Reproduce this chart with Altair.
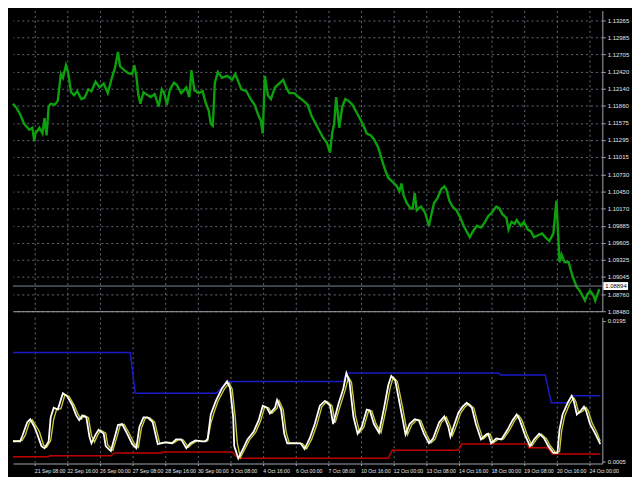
import altair as alt
import pandas as pd

# ---------------- data ----------------
# x = hourly bar index (0 = left edge), gridlines every 32 bars
price_bar = [0, 4, 7, 11, 16, 19, 21, 22, 26, 29, 31, 33, 35, 37, 41, 44, 47, 49, 52, 54,
             57, 60, 63, 67, 70, 74, 77, 81, 85, 89, 93, 97, 100, 103, 105, 109, 113, 117, 119, 121,
             123, 125, 128, 132, 135, 139, 143, 146, 148, 151, 154, 158, 161, 165, 170, 173, 175, 178, 182, 186,
             189, 192, 194, 196, 198, 201, 205, 210, 215, 218, 221, 224, 229, 233, 237, 241, 243, 245, 247, 250,
             253, 257, 261, 265, 268, 271, 276, 280, 285, 289, 293, 297, 300, 304, 308, 311, 313, 315, 317, 320,
             323, 326, 329, 333, 336, 340, 343, 347, 351, 354, 358, 362, 365, 368, 372, 376, 379, 381, 383, 386,
             390, 392, 394, 396, 400, 404, 408, 410, 413, 416, 420, 423, 425, 428, 431, 435, 438, 442, 445, 448,
             451, 455, 459, 463, 466, 470, 474, 477, 480, 484, 486, 489, 492, 494, 498, 501, 505, 508, 511, 515,
             519, 522, 526, 530, 533, 535, 536, 538, 541, 545, 548, 550, 553, 556, 559, 561, 563, 566, 569, 571,
             573, 575]
price_val = [1.11889, 1.11810, 1.11716, 1.11558, 1.11463, 1.11495, 1.11274, 1.11400, 1.11495, 1.11400,
             1.11653, 1.11369, 1.11842, 1.11889, 1.11873, 1.11937, 1.12378, 1.12315, 1.12521, 1.12410,
             1.12079, 1.12031, 1.12095, 1.11968, 1.11984, 1.12126, 1.12095, 1.12252, 1.12158, 1.12221,
             1.12063, 1.12315, 1.12473, 1.12741, 1.12505, 1.12442, 1.12394, 1.12378, 1.12521, 1.12347,
             1.12031, 1.11889, 1.12079, 1.12031, 1.12000, 1.12047, 1.11842, 1.12126, 1.12079, 1.11873,
             1.12126, 1.12237, 1.12189, 1.12063, 1.12158, 1.12000, 1.12442, 1.12110, 1.12063, 1.12095,
             1.11905, 1.11779, 1.11558, 1.11526, 1.12237, 1.12410, 1.12315, 1.12347, 1.12284, 1.12378,
             1.12252, 1.12126, 1.12095, 1.11968, 1.11873, 1.11684, 1.11621, 1.11400, 1.12347, 1.12031,
             1.11968, 1.12158, 1.12221, 1.12284, 1.12158, 1.12063, 1.12063, 1.12000, 1.11937, 1.11873,
             1.11684, 1.11558, 1.11463, 1.11337, 1.11242, 1.11085, 1.11400, 1.11558, 1.12000, 1.11495,
             1.11842, 1.11968, 1.11937, 1.11873, 1.11779, 1.11653, 1.11558, 1.11400, 1.11369, 1.11306,
             1.11179, 1.10958, 1.10800, 1.10674, 1.10611, 1.10548, 1.10453, 1.10580, 1.10390, 1.10264,
             1.10169, 1.10169, 1.10422, 1.10138, 1.10201, 1.10106, 1.09885, 1.10043, 1.10264, 1.10327,
             1.10485, 1.10532, 1.10485, 1.10296, 1.10201, 1.10138, 1.10043, 1.09885, 1.09791, 1.09696,
             1.09791, 1.09885, 1.09854, 1.09948, 1.10043, 1.10106, 1.10201, 1.10169, 1.10075, 1.10012,
             1.09822, 1.09948, 1.09917, 1.09980, 1.09885, 1.09948, 1.09822, 1.09791, 1.09696, 1.09728,
             1.09759, 1.09696, 1.09633, 1.09759, 1.10296, 1.09633, 1.09286, 1.09412, 1.09286, 1.09286,
             1.09096, 1.09002, 1.08876, 1.08812, 1.08718, 1.08654, 1.08749, 1.08812, 1.08749, 1.08654,
             1.08749, 1.08844]
current_price = [1.08894]
current_label = ["1.08894"]

# oscillator (white)
osc_bar = [0, 7, 9, 14, 17, 21, 23, 28, 31, 35, 37, 40, 44, 49, 53, 58, 62, 65, 68, 72,
           75, 77, 81, 84, 89, 91, 96, 100, 103, 107, 112, 117, 121, 124, 128, 132, 137, 142, 145, 149,
           156, 160, 165, 170, 174, 179, 185, 189, 191, 194, 199, 205, 210, 213, 216, 217, 221, 226, 230, 236,
           241, 245, 249, 252, 257, 259, 263, 266, 269, 275, 282, 286, 291, 296, 301, 306, 311, 314, 319, 324,
           327, 330, 334, 338, 342, 347, 350, 354, 359, 364, 368, 371, 375, 380, 385, 389, 394, 398, 403, 408,
           412, 418, 423, 427, 429, 432, 437, 441, 445, 450, 454, 459, 464, 466, 469, 474, 479, 485, 490, 494,
           497, 502, 507, 511, 516, 521, 525, 530, 534, 536, 539, 544, 548, 550, 553, 557, 560, 562, 566, 571,
           576]
osc_val = [0.00320, 0.00320, 0.00385, 0.00580, 0.00619, 0.00515, 0.00450, 0.00255, 0.00228, 0.00320,
           0.00645, 0.00776, 0.00750, 0.00971, 0.00932, 0.00815, 0.00671, 0.00606, 0.00671, 0.00645,
           0.00385, 0.00294, 0.00411, 0.00476, 0.00424, 0.00255, 0.00189, 0.00385, 0.00541, 0.00554,
           0.00424, 0.00281, 0.00228, 0.00515, 0.00645, 0.00645, 0.00580, 0.00281, 0.00294, 0.00307,
           0.00294, 0.00346, 0.00346, 0.00228, 0.00294, 0.00333, 0.00320, 0.00320, 0.00359, 0.00684,
           0.00867, 0.01036, 0.01131, 0.01036, 0.00645, 0.00255, 0.00090, 0.00228, 0.00346, 0.00450,
           0.00606, 0.00802, 0.00776, 0.00697, 0.00776, 0.00880, 0.00750, 0.00424, 0.00294, 0.00294,
           0.00294, 0.00215, 0.00359, 0.00554, 0.00802, 0.00867, 0.00802, 0.00554, 0.00815, 0.01036,
           0.01244, 0.01127, 0.00645, 0.00424, 0.00515, 0.00750, 0.00737, 0.00554, 0.00437, 0.00776,
           0.01075, 0.01205, 0.01140, 0.00776, 0.00411, 0.00554, 0.00619, 0.00606, 0.00424, 0.00294,
           0.00359, 0.00580, 0.00658, 0.00515, 0.00385, 0.00515, 0.00710, 0.00789, 0.00841, 0.00776,
           0.00554, 0.00346, 0.00411, 0.00424, 0.00294, 0.00359, 0.00346, 0.00476, 0.00606, 0.00684,
           0.00606, 0.00411, 0.00255, 0.00346, 0.00424, 0.00359, 0.00255, 0.00163, 0.00163, 0.00476,
           0.00684, 0.00841, 0.00936, 0.00867, 0.00684, 0.00737, 0.00789, 0.00737, 0.00554, 0.00424,
           0.00281]

# signal (yellow)
sig_bar = [0, 9, 12, 16, 19, 23, 26, 30, 33, 37, 40, 43, 47, 51, 55, 60, 64, 67, 70, 74,
           77, 80, 83, 86, 91, 93, 98, 102, 105, 109, 114, 119, 123, 126, 130, 134, 139, 144, 147, 151,
           158, 162, 167, 172, 176, 181, 187, 191, 194, 197, 201, 207, 212, 215, 218, 220, 223, 228, 232, 238,
           243, 247, 251, 254, 259, 261, 265, 268, 271, 277, 284, 288, 293, 298, 303, 308, 313, 316, 321, 326,
           329, 332, 336, 340, 344, 349, 352, 356, 361, 366, 370, 373, 377, 382, 387, 391, 396, 400, 405, 410,
           414, 420, 425, 429, 431, 434, 439, 443, 447, 452, 456, 461, 466, 468, 471, 476, 481, 487, 492, 496,
           499, 504, 509, 513, 518, 523, 527, 532, 536, 538, 541, 546, 550, 552, 555, 559, 562, 564, 568, 573,
           576]
sig_val = [0.00330, 0.00330, 0.00400, 0.00570, 0.00610, 0.00520, 0.00450, 0.00270, 0.00240, 0.00330,
           0.00620, 0.00760, 0.00760, 0.00950, 0.00930, 0.00810, 0.00680, 0.00620, 0.00670, 0.00640,
           0.00400, 0.00310, 0.00400, 0.00470, 0.00430, 0.00270, 0.00200, 0.00380, 0.00530, 0.00550,
           0.00430, 0.00290, 0.00240, 0.00500, 0.00640, 0.00640, 0.00580, 0.00290, 0.00300, 0.00310,
           0.00300, 0.00340, 0.00340, 0.00240, 0.00290, 0.00330, 0.00320, 0.00330, 0.00560, 0.00700,
           0.00860, 0.01020, 0.01110, 0.01030, 0.00650, 0.00300, 0.00100, 0.00230, 0.00340, 0.00440,
           0.00600, 0.00790, 0.00770, 0.00700, 0.00770, 0.00870, 0.00750, 0.00440, 0.00300, 0.00300,
           0.00290, 0.00220, 0.00350, 0.00540, 0.00790, 0.00860, 0.00800, 0.00570, 0.00800, 0.01020,
           0.01190, 0.01120, 0.00660, 0.00440, 0.00510, 0.00740, 0.00730, 0.00560, 0.00440, 0.00760,
           0.01050, 0.01190, 0.01130, 0.00790, 0.00410, 0.00540, 0.00610, 0.00600, 0.00430, 0.00300,
           0.00350, 0.00570, 0.00650, 0.00520, 0.00400, 0.00500, 0.00700, 0.00780, 0.00830, 0.00770,
           0.00560, 0.00350, 0.00410, 0.00420, 0.00300, 0.00350, 0.00350, 0.00470, 0.00600, 0.00670,
           0.00610, 0.00420, 0.00260, 0.00340, 0.00420, 0.00360, 0.00260, 0.00170, 0.00180, 0.00450,
           0.00660, 0.00830, 0.00910, 0.00860, 0.00700, 0.00730, 0.00780, 0.00740, 0.00570, 0.00430,
           0.00320]

# upper band (blue) and lower band (red)
upper_bar = [0, 115, 120, 199, 201, 210, 324, 327, 476, 478, 522, 528, 544, 548, 576]
upper_val = [0.01522, 0.01522, 0.00971, 0.00971, 0.00990, 0.01131, 0.01131, 0.01244, 0.01244,
             0.01218, 0.01218, 0.00841, 0.00841, 0.00936, 0.00936]
lower_bar = [0, 35, 36, 96, 100, 146, 147, 215, 219, 221, 368, 372, 437, 440, 504, 506, 524, 529, 576]
lower_val = [0.00111, 0.00111, 0.00124, 0.00124, 0.00163, 0.00163, 0.00176, 0.00176, 0.00120,
             0.00090, 0.00090, 0.00199, 0.00199, 0.00284, 0.00284, 0.00232, 0.00232, 0.00150, 0.00150]

tick_bars = [21, 53, 85, 117, 149, 181, 213, 245, 277, 309, 341, 373, 405, 437, 469, 501, 533, 565]
tick_labels = ["21 Sep 08:00", "22 Sep 16:00", "26 Sep 00:00", "27 Sep 08:00", "28 Sep 16:00",
               "30 Sep 00:00", "3 Oct 08:00", "4 Oct 16:00", "6 Oct 00:00", "7 Oct 08:00",
               "10 Oct 16:00", "12 Oct 00:00", "13 Oct 08:00", "14 Oct 16:00", "18 Oct 00:00",
               "19 Oct 08:00", "20 Oct 16:00", "24 Oct 00:00"]
price_ticks = [1.13265, 1.12985, 1.12705, 1.12420, 1.12140, 1.11860, 1.11575, 1.11295, 1.11015,
               1.10730, 1.10450, 1.10170, 1.09885, 1.09605, 1.09325, 1.09045, 1.08760, 1.08480]
osc_ticks = [0.0195, 0.0005]

# ---------------- chart ----------------
W = 596
H1 = 304
H2 = 148
FONT = "Liberation Sans"
LBL = "#e6e6e6"
GRID = "#6e7684"
EDGE = "#a0a6ae"

xdom = alt.Scale(domain=[0, 578], nice=False, zero=False)

price_df = pd.DataFrame({"bar": price_bar, "price": price_val})
cur_df = pd.DataFrame({"price": current_price, "label": current_label})

x_up = alt.X("bar:Q", scale=xdom, title=None,
             axis=alt.Axis(values=tick_bars, labels=False, ticks=False, grid=True,
                           domain=True, domainColor=EDGE))
y_price = alt.Y("price:Q", title=None,
                scale=alt.Scale(domain=[1.0848, 1.1342], nice=False, zero=False),
                axis=alt.Axis(orient="right", values=price_ticks, format=".5f", grid=True,
                              labelFontSize=6, labelColor=LBL, labelFont=FONT,
                              tickSize=3, tickColor=EDGE, domainColor=EDGE,
                              labelPadding=2, labelFlush=False, labelOverlap=False))

price_line = alt.Chart(price_df).mark_line(color="#0ca00c", strokeWidth=2.4).encode(x=x_up, y=y_price)
cur_rule = alt.Chart(cur_df).mark_rule(color="#7c8794", strokeWidth=1).encode(y=y_price)
cur_box = alt.Chart(cur_df).mark_rule(color="white", strokeWidth=8).encode(
    x=alt.value(W + 1), x2=alt.value(W + 26), y=y_price)
cur_txt = alt.Chart(cur_df).mark_text(align="left", baseline="middle", fontSize=6, font=FONT,
                                      color="black").encode(
    x=alt.value(W + 3), y=y_price, text="label:N")

upper = alt.layer(price_line, cur_rule, cur_box, cur_txt).properties(width=W, height=H1)

label_expr = "[" + ",".join("'%s'" % t for t in tick_labels) + "][indexof(" + \
    str(tick_bars) + ", datum.value)]"

x_lo = alt.X("bar:Q", scale=xdom, title=None,
             axis=alt.Axis(values=tick_bars, labelExpr=label_expr, labelAlign="left",
                           labelFontSize=5.2, labelFont=FONT, labelColor=LBL, labelPadding=3,
                           labelFlush=False, labelOverlap=False, ticks=True, tickSize=2,
                           tickColor=EDGE, grid=True, domain=True, domainColor=EDGE))
y_osc = alt.Y("val:Q", title=None,
              scale=alt.Scale(domain=[0.0002, 0.0200], nice=False, zero=False),
              axis=alt.Axis(orient="right", values=osc_ticks, format=".4f", grid=False,
                            labelFontSize=6, labelColor=LBL, labelFont=FONT, tickSize=3,
                            tickColor=EDGE, domainColor=EDGE, labelPadding=2,
                            labelFlush=False, labelOverlap=False))

def series(bars, vals, color, width):
    df = pd.DataFrame({"bar": bars, "val": vals})
    return alt.Chart(df).mark_line(color=color, strokeWidth=width).encode(x=x_lo, y=y_osc)

lower = alt.layer(
    series(upper_bar, upper_val, "#1a1acc", 1.5),
    series(lower_bar, lower_val, "#c00000", 1.5),
    series(sig_bar, sig_val, "#c8c830", 1.4),
    series(osc_bar, osc_val, "#ffffff", 1.8),
).properties(width=W, height=H2)

chart = alt.vconcat(upper, lower, spacing=3).properties(
    padding=0, background="black"
).configure_view(stroke=None, fill="black").configure_axis(
    gridColor=GRID, gridDash=[2, 3], gridOpacity=0.9, gridWidth=1
)

chart.save("out.html", embed_options={"renderer": "svg", "actions": False})
